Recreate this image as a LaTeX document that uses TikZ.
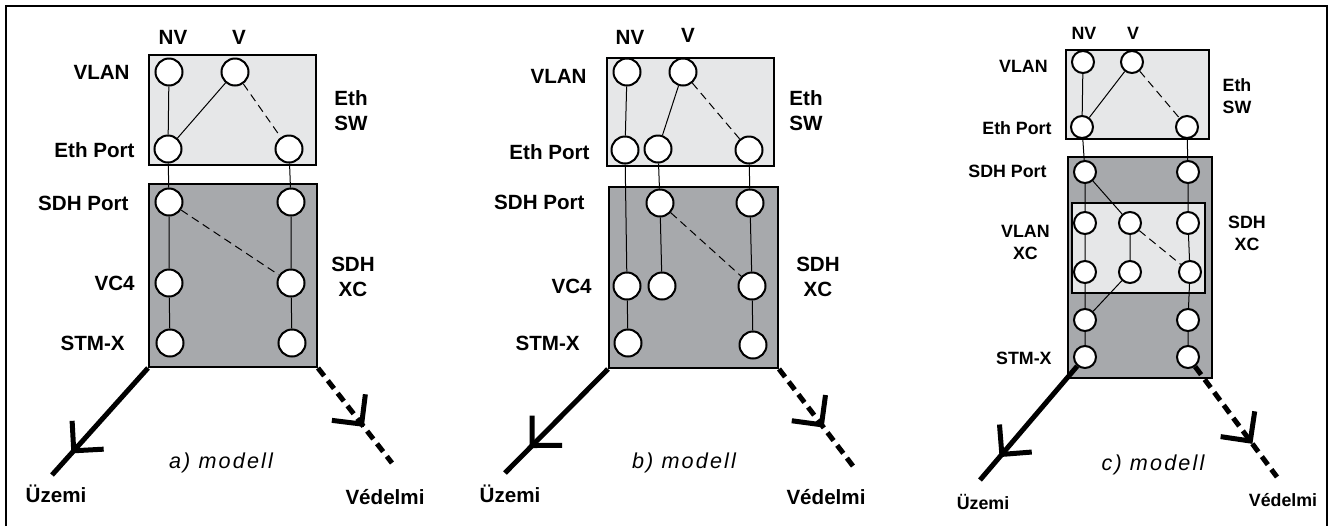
\documentclass[tikz,border=0pt]{standalone}
\usepackage{fontspec}
\setmainfont{Liberation Sans}
\newfontfamily\modellfont[LetterSpace=10]{Liberation Sans}
\usetikzlibrary{arrows.meta,decorations.markings}
\definecolor{swfill}{HTML}{E6E7E8}
\definecolor{xcfill}{HTML}{A7A9AC}

\begin{document}
\begin{tikzpicture}[
        x=0.5pt, y=-0.5pt,
        every node/.style={inner sep=0pt},
        port/.style={circle, draw, fill=white, line width=1pt, minimum size=13.5pt},
        sport/.style={port, minimum size=11pt},
        box/.style={draw, line width=1pt, anchor=north west},
        swbox/.style={box, fill=swfill},
        xcbox/.style={box, fill=xcfill},
        lbl/.style={font=\fontsize{10.3}{12.5}\selectfont\bfseries, align=center},
        slbl/.style={font=\fontsize{8.9}{11}\selectfont\bfseries, align=center},
        link/.style={line width=0.5pt},
        prot/.style={link, dash pattern=on 4pt off 2.5pt},
        tipat/.style={postaction={decorate, decoration={markings,
            mark=at position #1 with {\arrow{Straight Barb[angle=90:15pt]}}}}},
        uzemi/.style={line width=2.5pt, tipat=#1},
        vedelmi/.style={line width=2.5pt, dash pattern=on 5pt off 3pt, tipat=#1},
        modell/.style={font=\modellfont\itshape\fontsize{10.8}{12}\selectfont}
    ]
    \useasboundingbox (0,0) rectangle (1329,526);
    \draw[line width=0.6pt] (6,526) -- (6,6) -- (1327,6) -- (1327,526);

    % a) modell
    \node[swbox, minimum width=83.5pt, minimum height=55pt] (aSW) at (148,54) {};
    \node[xcbox, minimum width=84pt, minimum height=91.5pt] (aXC) at (148,183) {};
    \node[port] (aV1) at (169,72) {};
    \node[port] (aV2) at (235,72) {};
    \node[port] (aE1) at (168,149) {};
    \node[port] (aE2) at (289,149) {};
    \node[port] (aS1) at (169,202) {};
    \node[port] (aS2) at (291,202) {};
    \node[port] (aC1) at (169,283) {};
    \node[port] (aC2) at (291,283) {};
    \node[port] (aT1) at (170,343) {};
    \node[port] (aT2) at (292,343) {};
    \draw[link] (aV1) -- (aE1) -- (aS1) -- (aC1) -- (aT1);
    \draw[link] (aV2) -- (aE1);
    \draw[prot] (aV2) -- (aE2);
    \draw[link] (aE2) -- (aS2) -- (aC2) -- (aT2);
    \draw[prot] (aS1) -- (aC2);
    \node[lbl] (aNV) at (173,37) {NV};
    \node[lbl] (aV) at (239,37) {V};
    \node[lbl, anchor=east] (aLvlan) at (130,72) {VLAN};
    \node[lbl, anchor=east] (aLeth) at (135,150) {Eth Port};
    \node[lbl, anchor=east] (aLsdh) at (129,203) {SDH Port};
    \node[lbl, anchor=east] (aLvc) at (135,283) {VC4};
    \node[lbl, anchor=east] (aLstm) at (125,343) {STM-X};
    \node[lbl] (aLsw) at (351,111) {Eth\\SW};
    \node[lbl] (aLxc) at (353,277) {SDH\\XC};
    \coordinate (aU) at (52,475);
    \coordinate (aD) at (392,463);
    \draw[uzemi=0.8] (aXC.south west) -- (aU);
    \draw[vedelmi=0.62] (aXC.south east) -- (aD);
    \node[modell] (aM) at (221,463) {a) modell};
    \node[lbl] (aLu) at (56,494) {Üzemi};
    \node[lbl] (aLv) at (385,497) {Védelmi};

    % b) modell
    \node[swbox, minimum width=83.5pt, minimum height=54pt] (bSW) at (606,57) {};
    \node[xcbox, minimum width=84.5pt, minimum height=90.5pt] (bXC) at (608,186) {};
    \node[port] (bV1) at (627,72) {};
    \node[port] (bV2) at (683,72) {};
    \node[port] (bE1) at (625,150) {};
    \node[port] (bE2) at (658,149) {};
    \node[port] (bE3) at (749,150) {};
    \node[port] (bS2) at (660,203) {};
    \node[port] (bS3) at (750,203) {};
    \node[port] (bC1) at (627,286) {};
    \node[port] (bC2) at (662,286) {};
    \node[port] (bC3) at (752,286) {};
    \node[port] (bT1) at (628,343) {};
    \node[port] (bT3) at (753,345) {};
    \draw[link] (bV1) -- (bE1) -- (bC1) -- (bT1);
    \draw[link] (bV2) -- (bE2) -- (bS2) -- (bC2);
    \draw[prot] (bV2) -- (bE3);
    \draw[link] (bE3) -- (bS3) -- (bC3) -- (bT3);
    \draw[prot] (bS2) -- (bC3);
    \node[lbl] (bNV) at (630,37) {NV};
    \node[lbl] (bV) at (688,35) {V};
    \node[lbl, anchor=east] (bLvlan) at (587,76) {VLAN};
    \node[lbl, anchor=east] (bLeth) at (590,152) {Eth Port};
    \node[lbl, anchor=east] (bLsdh) at (585,202) {SDH Port};
    \node[lbl, anchor=east] (bLvc) at (592,286) {VC4};
    \node[lbl, anchor=east] (bLstm) at (580,343) {STM-X};
    \node[lbl] (bLsw) at (806,111) {Eth\\SW};
    \node[lbl] (bLxc) at (818,277) {SDH\\XC};
    \coordinate (bU) at (505,473);
    \coordinate (bD) at (856,470);
    \draw[uzemi=0.76] (bXC.south west) -- (bU);
    \draw[vedelmi=0.58] (bXC.south east) -- (bD);
    \node[modell] (bM) at (684,463) {b) modell};
    \node[lbl] (bLu) at (510,494) {Üzemi};
    \node[lbl] (bLv) at (826,497) {Védelmi};

    % c) modell
    \node[swbox, minimum width=71.5pt, minimum height=44.5pt] (cSW) at (1065,49) {};
    \node[xcbox, minimum width=72pt, minimum height=110.5pt] (cXC) at (1067,156) {};
    \node[swbox, minimum width=66.5pt, minimum height=45pt] (cVX) at (1071,202) {};
    \node[sport] (cV1) at (1083,62) {};
    \node[sport] (cV2) at (1132,62) {};
    \node[sport] (cE1) at (1082,127) {};
    \node[sport] (cE2) at (1187,127) {};
    \node[sport] (cS1) at (1085,172) {};
    \node[sport] (cS3) at (1188,172) {};
    \node[sport] (cX1) at (1085,223) {};
    \node[sport] (cX2) at (1130,223) {};
    \node[sport] (cX3) at (1188,223) {};
    \node[sport] (cY1) at (1085,272) {};
    \node[sport] (cY2) at (1130,272) {};
    \node[sport] (cY3) at (1190,272) {};
    \node[sport] (cZ1) at (1085,320) {};
    \node[sport] (cZ3) at (1188,320) {};
    \node[sport] (cT1) at (1085,357) {};
    \node[sport] (cT3) at (1188,357) {};
    \draw[link] (cV1) -- (cE1) -- (cS1) -- (cX1) -- (cY1) -- (cZ1) -- (cT1);
    \draw[link] (cV2) -- (cE1);
    \draw[prot] (cV2) -- (cE2);
    \draw[link] (cE2) -- (cS3) -- (cX3) -- (cY3) -- (cZ3) -- (cT3);
    \draw[link] (cS1) -- (cX2) -- (cY2) -- (cZ1);
    \draw[prot] (cX2) -- (cY3);
    \node[slbl] (cNV) at (1084,33) {NV};
    \node[slbl] (cV) at (1133,33) {V};
    \node[slbl, anchor=east] (cLvlan) at (1048,66) {VLAN};
    \node[slbl, anchor=east] (cLeth) at (1052,128) {Eth Port};
    \node[slbl, anchor=east] (cLsdh) at (1047,171) {SDH Port};
    \node[slbl, anchor=east] (cLvx) at (1050,242) {VLAN\\XC};
    \node[slbl, anchor=east] (cLstm) at (1052,358) {STM-X};
    \node[slbl] (cLsw) at (1237,96) {Eth\\SW};
    \node[slbl] (cLxc) at (1247,233) {SDH\\XC};
    \coordinate (cU) at (980,480);
    \coordinate (cD) at (1277,477);
    \draw[uzemi=0.8] (cT1) -- (cU);
    \draw[vedelmi=0.7] (cT3) -- (cD);
    \node[modell] (cM) at (1153,465) {c) modell};
    \node[slbl] (cLu) at (983,502) {Üzemi};
    \node[slbl] (cLv) at (1283,500) {Védelmi};
\end{tikzpicture}
\end{document}
